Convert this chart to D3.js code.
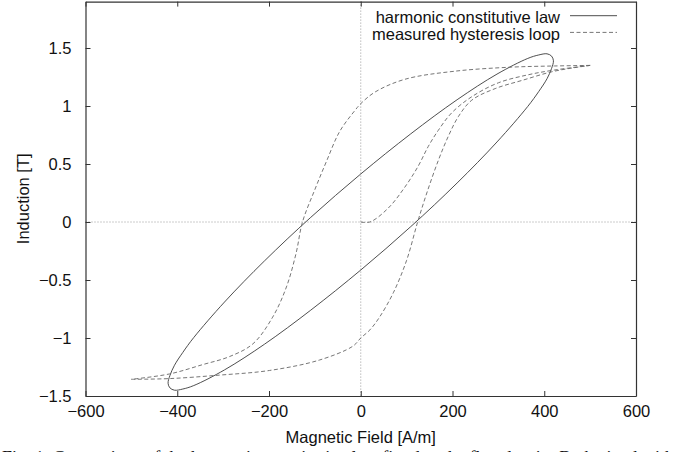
<!DOCTYPE html>
<html>
<head>
<meta charset="utf-8">
<script src="https://cdn.jsdelivr.net/npm/d3@7"></script>
<style>
  body { margin: 0; background: #fff; }
  svg text { font-family: "Liberation Sans", Arial, Helvetica, sans-serif; fill: #111; }
</style>
</head>
<body>
<svg id="chart" width="679" height="452"></svg>
<script>
// harmonic constitutive law (closed ellipse)
var harmonicH = [420, 416, 406, 388, 364, 297, 210, 109, 0, -109, -210, -297, -364, -388, -406, -416,
                 -420, -416, -406, -388, -364, -297, -210, -109, 0, 109, 210, 297, 364, 388, 406, 416];
var harmonicB = [1.39, 1.43, 1.45, 1.44, 1.41, 1.275, 1.054, 0.76, 0.414, 0.04, -0.336, -0.69, -0.996, -1.125, -1.235, -1.324,
                 -1.39, -1.43, -1.45, -1.44, -1.41, -1.275, -1.054, -0.76, -0.414, -0.04, 0.336, 0.69, 0.996, 1.125, 1.235, 1.324];

// measured hysteresis loop: first magnetisation, descending and ascending branch
var virginH = [0, 20, 60, 96, 125, 147, 169, 198, 242, 300, 366, 422, 500];
var virginB = [0, 0, 0.12, 0.30, 0.48, 0.65, 0.79, 0.94, 1.08, 1.20, 1.27, 1.31, 1.35];

var descH = [500, 422, 329, 205, 96, 31, 0, -13, -46, -75, -100, -127, -141, -162, -192, -235, -286, -345, -417, -500];
var descB = [1.35, 1.345, 1.335, 1.30, 1.23, 1.12, 1.02, 0.96, 0.78, 0.52, 0.28, 0, -0.27, -0.56, -0.82, -1.05, -1.16, -1.23, -1.31, -1.356];

var ascH = [-500, -417, -308, -199, -90, -17, 0, 20, 41, 71, 100, 124, 144, 169, 191, 213, 242, 293, 351, 422, 500];
var ascB = [-1.356, -1.35, -1.32, -1.28, -1.19, -1.07, -1.0, -0.93, -0.82, -0.61, -0.33, 0, 0.25, 0.53, 0.74, 0.91, 1.05, 1.15, 1.22, 1.30, 1.35];

var xTicks = [-600, -400, -200, 0, 200, 400, 600];
var yTicks = [-1.5, -1, -0.5, 0, 0.5, 1, 1.5];
var legendLabels = ["harmonic constitutive law", "measured hysteresis loop"];

var plot = {left: 85.5, right: 636, top: 1.6, bottom: 396};

var svg = d3.select("#chart");

var x = d3.scaleLinear().domain([-600, 600]).range([plot.left, plot.right]);
var y = d3.scaleLinear().domain([-1.5, 1.9]).range([plot.bottom, plot.top]);

var fmt = function(d) { return String(d).replace("-", "\u2212"); };

// zero axes (dotted)
svg.append("line")
  .attr("x1", x(0)).attr("x2", x(0))
  .attr("y1", plot.top).attr("y2", plot.bottom)
  .attr("stroke", "#999").attr("stroke-width", 1).attr("stroke-dasharray", "1,2");
svg.append("line")
  .attr("x1", plot.left).attr("x2", plot.right)
  .attr("y1", y(0)).attr("y2", y(0))
  .attr("stroke", "#999").attr("stroke-width", 1).attr("stroke-dasharray", "1,2");

// axes with inward ticks, mirrored
var gB = svg.append("g").attr("transform", "translate(0," + plot.bottom + ")")
  .call(d3.axisBottom(x).tickValues(xTicks).tickSizeInner(-5).tickSizeOuter(0).tickPadding(9).tickFormat(fmt));
var gT = svg.append("g").attr("transform", "translate(0," + plot.top + ")")
  .call(d3.axisTop(x).tickValues(xTicks).tickSizeInner(-5).tickSizeOuter(0).tickFormat(""));
var gL = svg.append("g").attr("transform", "translate(" + plot.left + ",0)")
  .call(d3.axisLeft(y).tickValues(yTicks).tickSizeInner(-5).tickSizeOuter(0).tickPadding(14).tickFormat(fmt));
var gR = svg.append("g").attr("transform", "translate(" + plot.right + ",0)")
  .call(d3.axisRight(y).tickValues(yTicks).tickSizeInner(-5).tickSizeOuter(0).tickFormat(""));

[gB, gT, gL, gR].forEach(function(g) {
  g.select(".domain").attr("stroke", "#333").attr("stroke-width", 1.2);
  g.selectAll(".tick line").attr("stroke", "#333");
  g.selectAll("text").attr("font-size", 16.5).attr("fill", "#111")
    .style("font-family", "'Liberation Sans', Arial, sans-serif");
});
gB.selectAll(".tick text").attr("dy", "0.71em");

// axis titles
svg.append("text")
  .attr("x", (plot.left + plot.right) / 2).attr("y", 443)
  .attr("text-anchor", "middle").attr("font-size", 16.5)
  .text("Magnetic Field [A/m]");
svg.append("text")
  .attr("transform", "translate(29," + ((plot.top + plot.bottom) / 2) + ") rotate(-90)")
  .attr("text-anchor", "middle").attr("font-size", 16.5)
  .text("Induction [T]");

// curves
var line = d3.line()
  .x(function(d) { return x(d[0]); })
  .y(function(d) { return y(d[1]); });

var harmonic = harmonicH.map(function(h, i) { return [h, harmonicB[i]]; });
svg.append("path")
  .datum(harmonic)
  .attr("d", line.curve(d3.curveCatmullRomClosed.alpha(0.5)))
  .attr("fill", "none").attr("stroke", "#3a3a3a").attr("stroke-width", 0.9);

var branches = [[virginH, virginB], [descH, descB], [ascH, ascB]];
branches.forEach(function(br) {
  var pts = br[0].map(function(h, i) { return [h, br[1][i]]; });
  svg.append("path")
    .datum(pts)
    .attr("d", line.curve(d3.curveCatmullRom.alpha(0.5)))
    .attr("fill", "none").attr("stroke", "#666").attr("stroke-width", 0.9)
    .attr("stroke-dasharray", "4,2.5");
});

// legend
var legend = svg.append("g");
legendLabels.forEach(function(lbl, i) {
  var by = 23.3 + i * 16.7;
  legend.append("text")
    .attr("x", 560).attr("y", by)
    .attr("text-anchor", "end").attr("font-size", 16.5)
    .text(lbl);
  legend.append("line")
    .attr("x1", 570).attr("x2", 617)
    .attr("y1", by - 7.6).attr("y2", by - 7.6)
    .attr("stroke", i === 0 ? "#3a3a3a" : "#666").attr("stroke-width", 0.9)
    .attr("stroke-dasharray", i === 0 ? null : "4,2.5");
});

// caption of the figure, mostly cut off at the bottom edge
svg.append("text")
  .attr("x", 2).attr("y", 464)
  .attr("textLength", 672).attr("lengthAdjust", "spacing")
  .attr("font-size", 18)
  .style("font-family", "'Liberation Serif', 'Times New Roman', serif")
  .attr("fill", "#222")
  .text("Fig. 1. Comparison of the harmonic constitutive law fitted to the flux density B obtained with");
</script>
</body>
</html>
